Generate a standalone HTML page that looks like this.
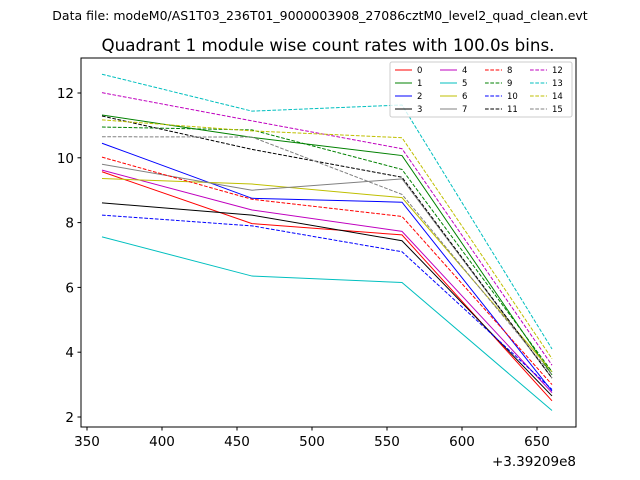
<!DOCTYPE html>
<html><head><meta charset="utf-8"><style>
body{margin:0;background:#fff;}
svg{display:block;font-family:"DejaVu Sans","Liberation Sans",sans-serif;}
</style></head><body>
<svg id="chart" width="640" height="480" xmlns="http://www.w3.org/2000/svg">
<rect width="640" height="480" fill="#fff"/>
<text x="320" y="20" font-size="12.5" text-anchor="middle">Data file: modeM0/AS1T03_236T01_9000003908_27086cztM0_level2_quad_clean.evt</text>
<text x="328" y="51" font-size="16.7" text-anchor="middle">Quadrant 1 module wise count rates with 100.0s bins.</text>
<g id="plot"></g>
<rect x="81" y="58" width="495" height="369" fill="none" stroke="#000" stroke-width="1"/>
<g id="ticks"></g>
<text x="576" y="466" font-size="13.5" text-anchor="end">+3.39209e8</text>
<g id="legend"></g>
</svg>
<script>
const xTimes=[360,460,560,660];
const xTicks=[350,400,450,500,550,600,650];
const yTicks=[2,4,6,8,10,12];
const seriesLabels=["0","1","2","3","4","5","6","7","8","9","10","11","12","13","14","15"];
const s0=[9.57,7.97,7.62,2.5];
const s1=[11.32,10.63,10.07,3.3];
const s2=[10.45,8.75,8.63,2.8];
const s3=[8.61,8.23,7.44,2.65];
const s4=[9.62,8.39,7.73,2.75];
const s5=[7.56,6.35,6.15,2.2];
const s6=[9.36,9.19,8.77,3.4];
const s7=[9.8,9.0,9.35,3.2];
const s8=[10.02,8.72,8.19,3.0];
const s9=[10.95,10.86,9.64,3.4];
const s10=[8.23,7.9,7.1,2.85];
const s11=[11.29,10.26,9.4,3.2];
const s12=[12.01,11.14,10.28,3.6];
const s13=[12.58,11.44,11.63,4.1];
const s14=[11.17,10.83,10.62,3.8];
const s15=[10.65,10.64,8.87,3.3];
const allSeries=[s0,s1,s2,s3,s4,s5,s6,s7,s8,s9,s10,s11,s12,s13,s14,s15];
const colors=["#ff0000","#008000","#0000ff","#000000","#bf00bf","#00bfbf","#bfbf00","#808080"];
const NS="http://www.w3.org/2000/svg";
function xs(v){return 87+(v-350)*1.5;}
function ys(v){return 417-(v-2)*32.4;}
const plot=document.getElementById('plot');
allSeries.forEach((s,i)=>{
  const p=document.createElementNS(NS,'polyline');
  
  
  p.setAttribute('points',s.map((v,j)=>xs(xTimes[j])+','+ys(v)).join(' '));
  p.setAttribute('fill','none');
  p.setAttribute('stroke',colors[i%8]);
  p.setAttribute('stroke-width','1');
  if(i>=8)p.setAttribute('stroke-dasharray','3.7,1.6');
  plot.appendChild(p);
});
const ticks=document.getElementById('ticks');
xTicks.forEach(t=>{
  const l=document.createElementNS(NS,'line');
  
  
  l.setAttribute('x1',xs(t));l.setAttribute('x2',xs(t));l.setAttribute('y1',427);l.setAttribute('y2',430.5);l.setAttribute('stroke','#000');
  ticks.appendChild(l);
  const tx=document.createElementNS(NS,'text');
  
  
  tx.setAttribute('x',xs(t));tx.setAttribute('y',446);tx.setAttribute('font-size','13.5');tx.setAttribute('text-anchor','middle');
  tx.textContent=t;ticks.appendChild(tx);
});
yTicks.forEach(t=>{
  const l=document.createElementNS(NS,'line');
  
  
  l.setAttribute('x1',77.5);l.setAttribute('x2',81);l.setAttribute('y1',ys(t));l.setAttribute('y2',ys(t));l.setAttribute('stroke','#000');
  ticks.appendChild(l);
  const tx=document.createElementNS(NS,'text');
  
  
  tx.setAttribute('x',74);tx.setAttribute('y',ys(t)+5);tx.setAttribute('font-size','13.5');tx.setAttribute('text-anchor','end');
  tx.textContent=t;ticks.appendChild(tx);
});
const lg=document.getElementById('legend');
const box=document.createElementNS(NS,'rect');


box.setAttribute('x',390);box.setAttribute('y',62);box.setAttribute('width',182);box.setAttribute('height',55);box.setAttribute('rx',2);
box.setAttribute('fill','#fff');box.setAttribute('fill-opacity','0.8');box.setAttribute('stroke','#ccc');
lg.appendChild(box);
seriesLabels.forEach((lab,i)=>{
  const col=Math.floor(i/4),row=i%4;
  const x0=395+col*45,y0=70+row*13;
  const l=document.createElementNS(NS,'line');
  
  
  l.setAttribute('x1',x0);l.setAttribute('x2',x0+17);l.setAttribute('y1',y0);l.setAttribute('y2',y0);
  l.setAttribute('stroke',colors[i%8]);l.setAttribute('stroke-width','1');
  if(i>=8)l.setAttribute('stroke-dasharray','3.7,1.6');
  lg.appendChild(l);
  const tx=document.createElementNS(NS,'text');
  
  
  tx.setAttribute('x',x0+22);tx.setAttribute('y',y0+3);tx.setAttribute('font-size','8.5');
  tx.textContent=lab;lg.appendChild(tx);
});
</script>
</body></html>
